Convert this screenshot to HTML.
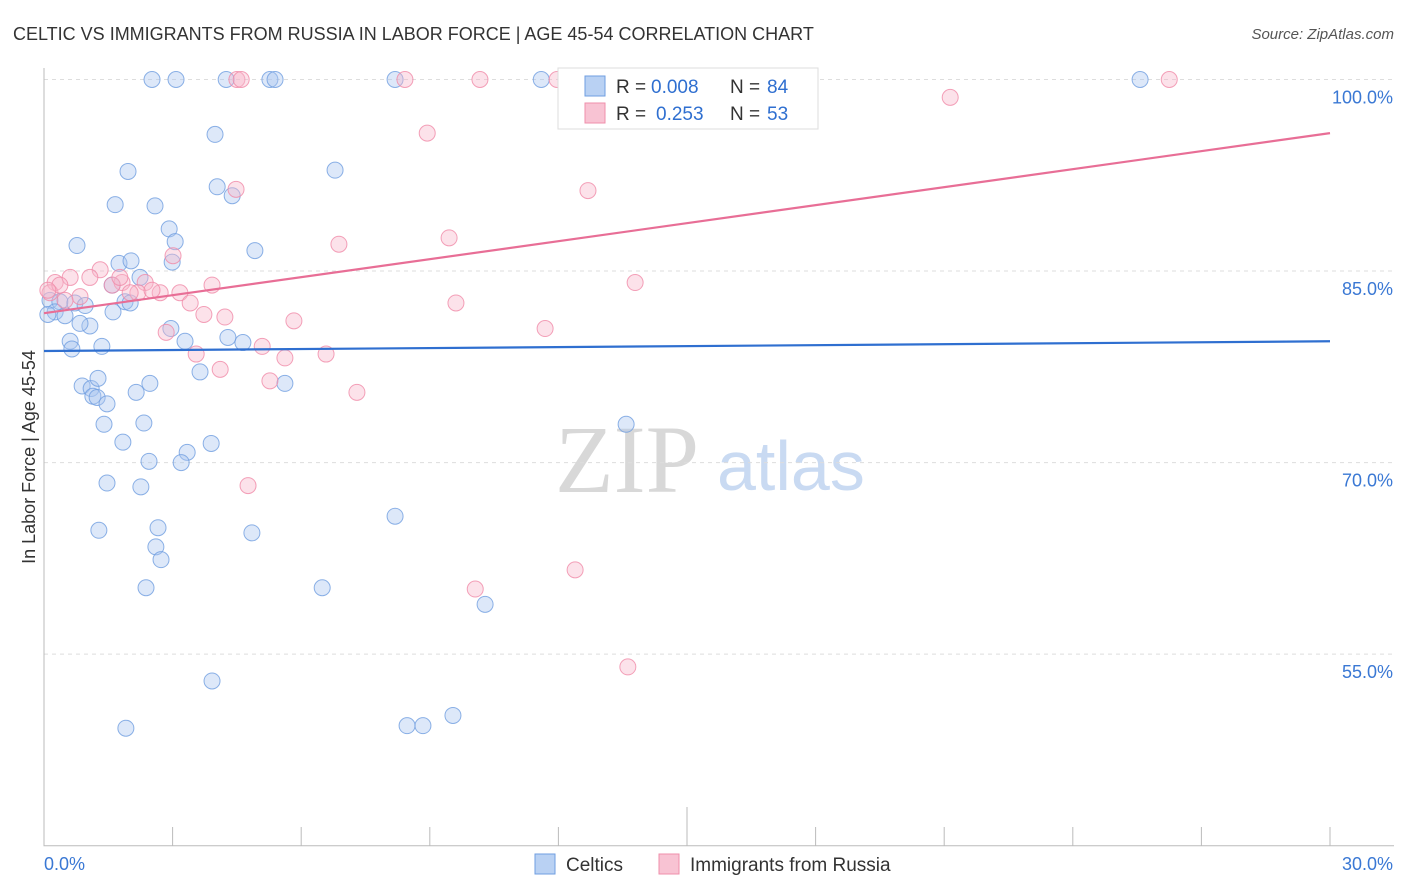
<!DOCTYPE html>
<html><head><meta charset="utf-8"><style>
body{margin:0;background:#fff;font-family:"Liberation Sans",sans-serif}
svg{display:block}
</style></head><body>
<svg id="chart" width="1406" height="892">
<text x="13" y="40" font-size="18" fill="#333">CELTIC VS IMMIGRANTS FROM RUSSIA IN LABOR FORCE | AGE 45-54 CORRELATION CHART</text>
<text x="1394" y="39" font-size="15" fill="#555" font-style="italic" text-anchor="end">Source: ZipAtlas.com</text>
<text x="35" y="457" font-size="18" fill="#333" text-anchor="middle" transform="rotate(-90 35 457)">In Labor Force | Age 45-54</text>
<text x="555" y="492" font-size="96" fill="#d8d8d8" font-family="Liberation Serif,serif">ZIP</text>
<text x="717" y="490" font-size="70" fill="#c9daf2">atlas</text>
<g id="grid"></g><g id="axes"></g><g id="pts"></g><g id="lines"></g>
<g>
<rect x="558" y="68" width="260" height="61" fill="#fff" stroke="#ddd"/>
<rect x="585" y="76" width="20" height="20" fill="#b9d1f3" stroke="#6f9ee0"/>
<text y="93" font-size="19" fill="#333"><tspan x="616">R =</tspan><tspan x="651" fill="#2f6fd0">0.008</tspan><tspan x="730">N =</tspan><tspan x="767" fill="#2f6fd0">84</tspan></text>
<rect x="585" y="103" width="20" height="20" fill="#f8c3d3" stroke="#ef8fab"/>
<text y="120" font-size="19" fill="#333"><tspan x="616">R =</tspan><tspan x="656" fill="#2f6fd0">0.253</tspan><tspan x="730">N =</tspan><tspan x="767" fill="#2f6fd0">53</tspan></text>
</g>
<g><rect x="535" y="854" width="20" height="20" fill="#b9d1f3" stroke="#6f9ee0"/><text x="566" y="871" font-size="19" fill="#333">Celtics</text></g>
<g><rect x="659" y="854" width="20" height="20" fill="#f8c3d3" stroke="#ef8fab"/><text x="690" y="871" font-size="19" fill="#333">Immigrants from Russia</text></g>
<text x="44" y="870" font-size="18" fill="#3a78d4">0.0%</text>
<text x="1393" y="870" font-size="18" fill="#3a78d4" text-anchor="end">30.0%</text>
</svg>
<script>
const yTicks=[100,85,70,55];
const yTickLabels=["100.0%","85.0%","70.0%","55.0%"];
const xTicks=[0,3,6,9,12,15,18,21,24,27,30];
const blueX=[2.52,3.08,4.25,5.27,5.39,8.19,11.6,25.57,3.99,1.96,6.79,4.04,4.39,1.66,2.59,2.92,3.06,0.77,4.92,1.75,2.03,2.99,2.24,1.59,0.14,0.37,0.72,0.96,1.89,2.01,0.26,0.49,0.09,1.07,0.84,1.61,2.96,0.61,3.29,4.29,4.64,0.65,1.35,3.64,2.47,5.62,0.89,1.1,1.26,1.14,1.24,1.47,2.15,1.4,2.33,1.84,3.9,3.34,2.45,3.2,1.47,2.26,1.28,2.66,4.85,8.19,2.61,2.73,2.38,6.49,10.29,13.58,3.92,1.91,8.47,8.84,9.54];
const blueY=[100,100,100,100,100,100,100,100,95.7,92.8,92.9,91.6,90.9,90.2,90.1,88.3,87.3,87.0,86.6,85.6,85.8,85.7,84.5,83.9,82.7,82.6,82.5,82.3,82.6,82.5,81.8,81.5,81.6,80.7,80.9,81.8,80.5,79.5,79.5,79.8,79.4,78.9,79.1,77.1,76.2,76.2,76.0,75.8,76.6,75.2,75.1,74.6,75.5,73.0,73.1,71.6,71.5,70.8,70.1,70.0,68.4,68.1,64.7,64.9,64.5,65.8,63.4,62.4,60.2,60.2,58.9,73.0,52.9,49.2,49.4,49.4,50.2];
const pinkX=[4.5,4.6,8.42,10.17,11.97,12.39,14.25,26.25,21.14,8.94,4.48,12.69,9.45,6.88,3.01,0.26,0.61,1.31,1.07,1.82,2.36,1.59,2.19,2.71,3.17,3.92,0.14,0.37,0.84,3.41,9.61,3.73,4.22,5.83,2.85,11.69,13.79,3.55,5.09,5.62,6.58,4.11,5.27,7.3,4.76,10.06,12.39,13.62,2.01,2.52,0.09,0.49,1.77];
const pinkY=[100,100,100,100,100,100,100,100,98.6,95.8,91.4,91.3,87.6,87.1,86.2,84.1,84.5,85.1,84.5,84.1,84.1,83.9,83.3,83.3,83.3,83.9,83.3,83.9,83.0,82.5,82.5,81.6,81.4,81.1,80.2,80.5,84.1,78.5,79.1,78.2,78.5,77.3,76.4,75.5,68.2,60.1,61.6,54.0,83.3,83.5,83.5,82.7,84.5];
const blueTrend=[78.74,79.5];
const pinkTrend=[81.7,95.8];
const NS="http://www.w3.org/2000/svg";
const X=v=>44+v/30*1286;
const Y=v=>79.5+(100-v)*12.77;
function mk(t,a,p){const e=document.createElementNS(NS,t);for(const k in a)e.setAttribute(k,a[k]);p.appendChild(e);return e;}
const grid=document.getElementById('grid'),axes=document.getElementById('axes'),pts=document.getElementById('pts'),lines=document.getElementById('lines');
yTicks.forEach((t,i)=>{
 const l=mk('line',{x1:44,x2:1394,y1:Y(t),y2:Y(t),stroke:'#ddd','stroke-dasharray':'4,4'},grid);
 
 
 const tx=mk('text',{x:1393,y:Y(t)+24,'font-size':18,fill:'#3a78d4','text-anchor':'end'},grid);
 tx.textContent=yTickLabels[i];
 
 
});
const ax=mk('path',{d:`M44,68V${Y(40)}H1394`,stroke:'#bbb',fill:'none'},axes);


xTicks.forEach(t=>{
 if(t===0)return;
 const tk=mk('line',{x1:X(t),x2:X(t),y1:t===15?807:827,y2:Y(40),stroke:'#bbb'},axes);
 
 
});
function dots(xs,ys,fill,stroke,name){xs.forEach((x,i)=>{
 const c=mk('circle',{cx:X(x),cy:Y(ys[i]),r:8,fill:fill,'fill-opacity':0.4,stroke:stroke,'stroke-opacity':0.8,'stroke-width':1},pts);
 
 
});}
dots(blueX,blueY,'#a9c6f0','#6f9ee0','celtics-point');
dots(pinkX,pinkY,'#f7b6ca','#f08aa8','russia-point');
const b=mk('line',{x1:X(0),x2:X(30),y1:Y(blueTrend[0]),y2:Y(blueTrend[1]),stroke:'#2f6fd0','stroke-width':2.2},lines);


const p=mk('line',{x1:X(0),x2:X(30),y1:Y(pinkTrend[0]),y2:Y(pinkTrend[1]),stroke:'#e86e96','stroke-width':2.2},lines);


</script>
</body></html>
